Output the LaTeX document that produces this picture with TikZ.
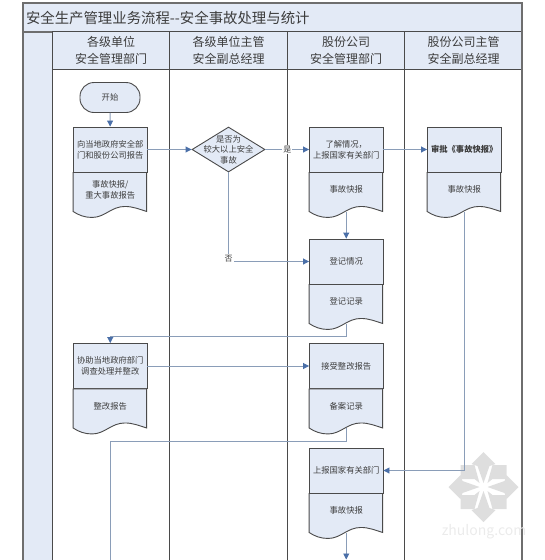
\documentclass[tikz,border=0pt]{standalone}
\usepackage{fontspec}
\setmainfont{Noto Sans CJK SC}
\definecolor{lanefill}{HTML}{E3EAF6}
\definecolor{frameline}{HTML}{6E6E6E}
\definecolor{boxline}{HTML}{4A4A4A}
\definecolor{flowgray}{HTML}{8A9DB8}
\definecolor{tipblue}{HTML}{4A6FA8}
\definecolor{markgray}{HTML}{DEDEDE}
\definecolor{marktext}{HTML}{EBEBEB}
\definecolor{inktext}{HTML}{3C3C3C}
\usetikzlibrary{shapes.geometric,arrows.meta,positioning,calc}
\tikzset{
  titlebox/.style={draw=frameline,line width=1.3pt,fill=lanefill,minimum width=499pt,minimum height=29pt,text=inktext,font=\fontsize{14.4}{16}\selectfont,inner sep=0pt},
  headbox/.style={draw=boxline,line width=.8pt,fill=lanefill,minimum width=117.5pt,minimum height=37.5pt,text=inktext,align=center,inner sep=0pt,font=\fontsize{12}{17}\selectfont},
  taskbox/.style={draw=boxline,line width=.9pt,fill=lanefill,minimum width=73.5pt,minimum height=45pt,text=inktext,align=center,inner sep=0pt,font=\fontsize{8.3}{11}\selectfont},
  startbox/.style={taskbox,rounded corners=14pt,minimum width=60pt,minimum height=30pt},
  decisionbox/.style={draw=boxline,line width=.9pt,fill=lanefill,shape=diamond,aspect=1.62,minimum width=73pt,minimum height=45pt,inner sep=0pt},
  doctext/.style={text=inktext,align=center,inner sep=0pt,font=\fontsize{8.3}{11}\selectfont},
  flowline/.style={draw=flowgray,line width=.9pt,-{Triangle[length=6pt,width=6pt,color=tipblue]}},
  flowplain/.style={draw=flowgray,line width=.9pt},
  flowlabel/.style={fill=white,text=inktext,inner sep=1pt,font=\fontsize{8}{9}\selectfont},
}
% lower part of a task box, with the wavy edge
\newcommand{\docpart}[2]{
  \begin{scope}[shift={(#1.south west)}]
  \filldraw[fill=lanefill,draw=boxline,line width=.9pt] (0,0) -- (0,39) .. controls (6,43) and (12,45) .. (19,45) .. controls (32,45) and (38,34) .. (52,34) .. controls (60,34) and (67,37) .. (73.5,39) -- (73.5,0) -- cycle;
  \end{scope}
  \coordinate (#1end) at ($(#1.south)+(0,39.5)$);
  \node[doctext] (#1doc) at ($(#1.south)+(0,17)$) {#2};
}
\begin{document}
\begin{tikzpicture}[x=1pt,y=-1pt]
\useasboundingbox (0,0) rectangle (545,560);
% frame and lanes
\fill[lanefill] (23,31) rectangle (52,560);
\node[titlebox,text width=493pt] (title) at (272.5,17.5) {安全生产管理业务流程-{}-安全事故处理与统计};
\node[headbox] (hA) at (111,50.5) {各级单位\\安全管理部门};
\node[headbox] (hB) at (228.5,50.5) {各级单位主管\\安全副总经理};
\node[headbox] (hC) at (346,50.5) {股份公司\\安全管理部门};
\node[headbox] (hD) at (463.5,50.5) {股份公司主管\\安全副总经理};
\foreach \lx in {52.25,169.75,287.25,404.75}
  \draw[boxline,line width=.9pt] (\lx,69) -- (\lx,560);
\draw[frameline,line width=1.3pt] (23,560) -- (23,3) -- (522,3) -- (522,560);
% watermark
\foreach \wa in {0,90,180,270}
  \fill[markgray,shift={(483.5,487)},rotate=\wa] (0,-35) -- (12,-23) -- (6,-21) -- (0,-4) -- (-6,-21) -- (-12,-23) -- cycle;
\foreach \sx/\sy in {1/1,1/-1,-1/1,-1/-1}
  \fill[markgray,shift={(483.5,487)},xscale=\sx,yscale=\sy] (9,-22) -- (23,-22) -- (23,-8) -- (9,-8) -- (4,-4) -- cycle;
\node[text=marktext,font=\fontsize{14}{16}\selectfont,inner sep=0pt] (mark) at (484,532) {zhulong.com};
% tasks
\node[startbox] (start) at (110,97.5) {开始};
\node[taskbox] (report) at (110.25,149.5) {向当地政府安全部\\门和股份公司报告};
\docpart{report}{事故快报/\\重大事故报告}
\node[decisionbox] (check) at (228.5,149.5) {};
\node[doctext,font=\fontsize{8.3}{10.5}\selectfont] (checktext) at (check) {是否为\\较大以上安全\\事故};
\node[taskbox] (learn) at (346.25,149.5) {了解情况，\\上报国家有关部门};
\docpart{learn}{事故快报}
\node[taskbox,font=\fontsize{8.3}{11}\selectfont\bfseries] (approve) at (464.25,149.5) {审批《事故快报》};
\docpart{approve}{事故快报}
\node[taskbox] (enroll) at (346.25,261.5) {登记情况};
\docpart{enroll}{登记记录}
\node[taskbox] (assist) at (110.25,366) {协助当地政府部门\\调查处理并整改};
\docpart{assist}{整改报告}
\node[taskbox] (accept) at (346.25,366) {接受整改报告};
\docpart{accept}{备案记录}
\node[taskbox] (upper) at (346.25,470.5) {上报国家有关部门};
\docpart{upper}{事故快报}
% connectors
\coordinate (turnA) at (346.25,336);
\coordinate (turnB) at (346.25,441);
\coordinate (exitA) at (110.25,560);
\coordinate (exitB) at (346.25,559.5);
\draw[flowline] (start) -- (report);
\draw[flowline] (report) -- (check);
\draw[flowline] (check) -- node[flowlabel] (yes) {是} (learn);
\draw[flowline] (check) |- node[flowlabel,yshift=3pt] (no) {否} (enroll);
\draw[flowline] (learn) -- (approve);
\draw[flowline] (learnend) -- (enroll);
\draw[flowline] (enrollend) -- (turnA) -| (assist);
\draw[flowline] (assist) -- (accept);
\draw[flowplain] (acceptend) -- (turnB) -| (exitA);
\draw[flowline] (approveend) |- (upper);
\draw[flowline] (upperend) -- (exitB);
\end{tikzpicture}
\end{document}
